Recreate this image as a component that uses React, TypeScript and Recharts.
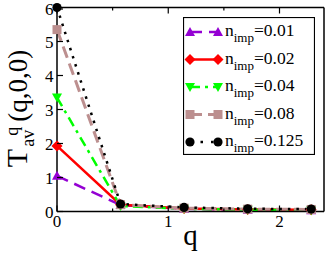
import React from 'react'
import { LineChart, Line, XAxis, YAxis, Legend } from 'recharts'

// q = 2*pi*n/11
const qValues = [0, 0.571, 1.142, 1.714, 2.285]
const imp001 = [1.05, 0.19, 0.08, 0.05, 0.04]
const imp002 = [1.93, 0.2, 0.09, 0.06, 0.05]
const imp004 = [3.35, 0.16, 0.08, 0.05, 0.04]
const imp008 = [5.35, 0.2, 0.1, 0.07, 0.06]
const imp0125 = [6.0, 0.22, 0.12, 0.08, 0.07]
const impLabels = ['0.01', '0.02', '0.04', '0.08', '0.125']
const xTicks = [0, 0.5, 1, 1.5, 2]
const yTicks = [0, 0.5, 1, 1.5, 2, 2.5, 3, 3.5, 4, 4.5, 5, 5.5, 6]

const FONT = '"Liberation Serif", "DejaVu Serif", serif'

const data = qValues.map((q, i) => ({
  q,
  s1: imp001[i],
  s2: imp002[i],
  s3: imp004[i],
  s4: imp008[i],
  s5: imp0125[i],
}))

type Shape = 'up' | 'diamond' | 'down' | 'square' | 'circle'

const series: { key: string; label: string; color: string; dash?: string; width: number; shape: Shape }[] = [
  { key: 's1', label: impLabels[0], color: '#9400d3', dash: '12 7', width: 2.5, shape: 'up' },
  { key: 's2', label: impLabels[1], color: '#ff0000', width: 2.5, shape: 'diamond' },
  { key: 's3', label: impLabels[2], color: '#00ff00', dash: '10 5 3 5', width: 2.5, shape: 'down' },
  { key: 's4', label: impLabels[3], color: '#bc8f8f', dash: '12 6', width: 3, shape: 'square' },
  { key: 's5', label: impLabels[4], color: '#000000', dash: '2.5 6', width: 2.5, shape: 'circle' },
]

function Marker({ shape, cx, cy, color }: { shape: Shape; cx: number; cy: number; color: string }) {
  if (cx == null || cy == null) return null
  switch (shape) {
    case 'up':
      return <polygon points={`${cx},${cy - 5} ${cx - 5},${cy + 4} ${cx + 5},${cy + 4}`} fill={color} />
    case 'down':
      return <polygon points={`${cx},${cy + 5} ${cx - 5},${cy - 4} ${cx + 5},${cy - 4}`} fill={color} />
    case 'diamond':
      return <polygon points={`${cx},${cy - 5.5} ${cx + 5.5},${cy} ${cx},${cy + 5.5} ${cx - 5.5},${cy}`} fill={color} />
    case 'square':
      return <rect x={cx - 4.5} y={cy - 4.5} width={9} height={9} fill={color} />
    default:
      return <circle cx={cx} cy={cy} r={4.6} fill={color} />
  }
}

const BottomTick = (p: any) => {
  const v = p.payload.value
  const major = Number.isInteger(v)
  return (
    <g>
      <line x1={p.x} x2={p.x} y1={p.y} y2={p.y - (major ? 6 : 3)} stroke="#000" strokeWidth={1.2} />
      {major && (
        <text x={p.x} y={p.y + 15.5} textAnchor="middle" fontSize={17} fontFamily={FONT} fill="#000">
          {v}
        </text>
      )}
    </g>
  )
}

const TopTick = (p: any) => {
  const major = Number.isInteger(p.payload.value)
  return <line x1={p.x} x2={p.x} y1={p.y} y2={p.y + (major ? 6 : 3)} stroke="#000" strokeWidth={1.2} />
}

const LeftTick = (p: any) => {
  const v = p.payload.value
  const major = Number.isInteger(v)
  return (
    <g>
      <line x1={p.x} x2={p.x + (major ? 6 : 3)} y1={p.y} y2={p.y} stroke="#000" strokeWidth={1.2} />
      {major && (
        <text x={p.x - 3.5} y={p.y + 6} textAnchor="end" fontSize={17} fontFamily={FONT} fill="#000">
          {v}
        </text>
      )}
    </g>
  )
}

const RightTick = (p: any) => {
  const major = Number.isInteger(p.payload.value)
  return <line x1={p.x} x2={p.x - (major ? 6 : 3)} y1={p.y} y2={p.y} stroke="#000" strokeWidth={1.2} />
}

const YLabel = (p: any) => {
  const vb = p.viewBox || { x: 0, y: 0, width: 57, height: 204 }
  const cy = vb.y + vb.height / 2 - 1
  return (
    <text transform={`translate(27, ${cy}) rotate(-90)`} textAnchor="middle" fontFamily={FONT} fontSize={27} fill="#000">
      <tspan fontSize={30}>T</tspan>
      <tspan dx={2} dy={7} fontSize={18}>av</tspan>
      <tspan dx={-6} dy={-16} fontSize={18}>q</tspan>
      <tspan dx={5} dy={9}>(q,0,0)</tspan>
    </text>
  )
}

const XLabel = (p: any) => {
  const vb = p.viewBox || { x: 57, y: 211.5, width: 267, height: 43.5 }
  return (
    <text x={vb.x + vb.width / 2} y={vb.y + 33} textAnchor="middle" fontFamily={FONT} fontSize={29} fill="#000">
      q
    </text>
  )
}

function LegendBox() {
  const rowH = 27.5
  return (
    <svg width={132} height={138} style={{ display: 'block' }}>
      <rect x={0.5} y={0.5} width={131} height={137} fill="#fff" stroke="#000" strokeWidth={1.2} />
      {series.map((s, i) => {
        const cy = 15 + i * rowH
        return (
          <g key={s.key}>
            <line x1={7} x2={35} y1={cy} y2={cy} stroke={s.color} strokeWidth={s.width} strokeDasharray={s.dash ? (s.shape === 'circle' ? '2.5 8' : s.dash) : undefined} />
            <Marker shape={s.shape} cx={7} cy={cy} color={s.color} />
            <Marker shape={s.shape} cx={35} cy={cy} color={s.color} />
            <text x={42} y={cy + 4} fontFamily={FONT} fontSize={17.5} fill="#000">
              n<tspan dy={6} fontSize={13}>imp</tspan>
              <tspan dy={-6}>={s.label}</tspan>
            </text>
          </g>
        )
      })}
    </svg>
  )
}

export default function App() {
  return (
    <div style={{ position: 'absolute', left: 0, top: 0, width: 327, height: 255, background: '#fff' }}>
      <LineChart width={327} height={255} data={data} margin={{ top: 6.5, right: 2, bottom: 0, left: 0 }}>
        <XAxis
          dataKey="q"
          type="number"
          domain={[0, 2.4]}
          ticks={xTicks}
          height={43.5}
          tickSize={0}
          tickMargin={0}
          tickLine={false}
          tick={<BottomTick />}
          axisLine={{ stroke: '#000', strokeWidth: 1.5 }}
          label={<XLabel />}
        />
        <XAxis
          xAxisId="top"
          orientation="top"
          dataKey="q"
          type="number"
          domain={[0, 2.4]}
          ticks={xTicks}
          height={1}
          tickSize={0}
          tickMargin={0}
          tickLine={false}
          tick={<TopTick />}
          axisLine={{ stroke: '#000', strokeWidth: 1.5 }}
        />
        <YAxis
          type="number"
          domain={[0, 6]}
          ticks={yTicks}
          width={57}
          tickSize={0}
          tickMargin={0}
          tickLine={false}
          tick={<LeftTick />}
          axisLine={{ stroke: '#000', strokeWidth: 1.5 }}
          label={<YLabel />}
        />
        <YAxis
          yAxisId="right"
          orientation="right"
          type="number"
          domain={[0, 6]}
          ticks={yTicks}
          width={1}
          tickSize={0}
          tickMargin={0}
          tickLine={false}
          tick={<RightTick />}
          axisLine={{ stroke: '#000', strokeWidth: 1.5 }}
        />
        {series.map((s) => (
          <Line
            key={s.key}
            dataKey={s.key}
            type="linear"
            stroke={s.color}
            strokeWidth={s.width}
            strokeDasharray={s.dash}
            isAnimationActive={false}
            activeDot={false}
            dot={(p: any) => <Marker key={`${s.key}-${p.index}`} shape={s.shape} cx={p.cx} cy={p.cy} color={s.color} />}
          />
        ))}
        <Legend
          layout="horizontal"
          verticalAlign="middle"
          align="center"
          wrapperStyle={{ left: 183, top: 17, width: 132, height: 138 }}
          content={() => <LegendBox />}
        />
      </LineChart>
    </div>
  )
}
